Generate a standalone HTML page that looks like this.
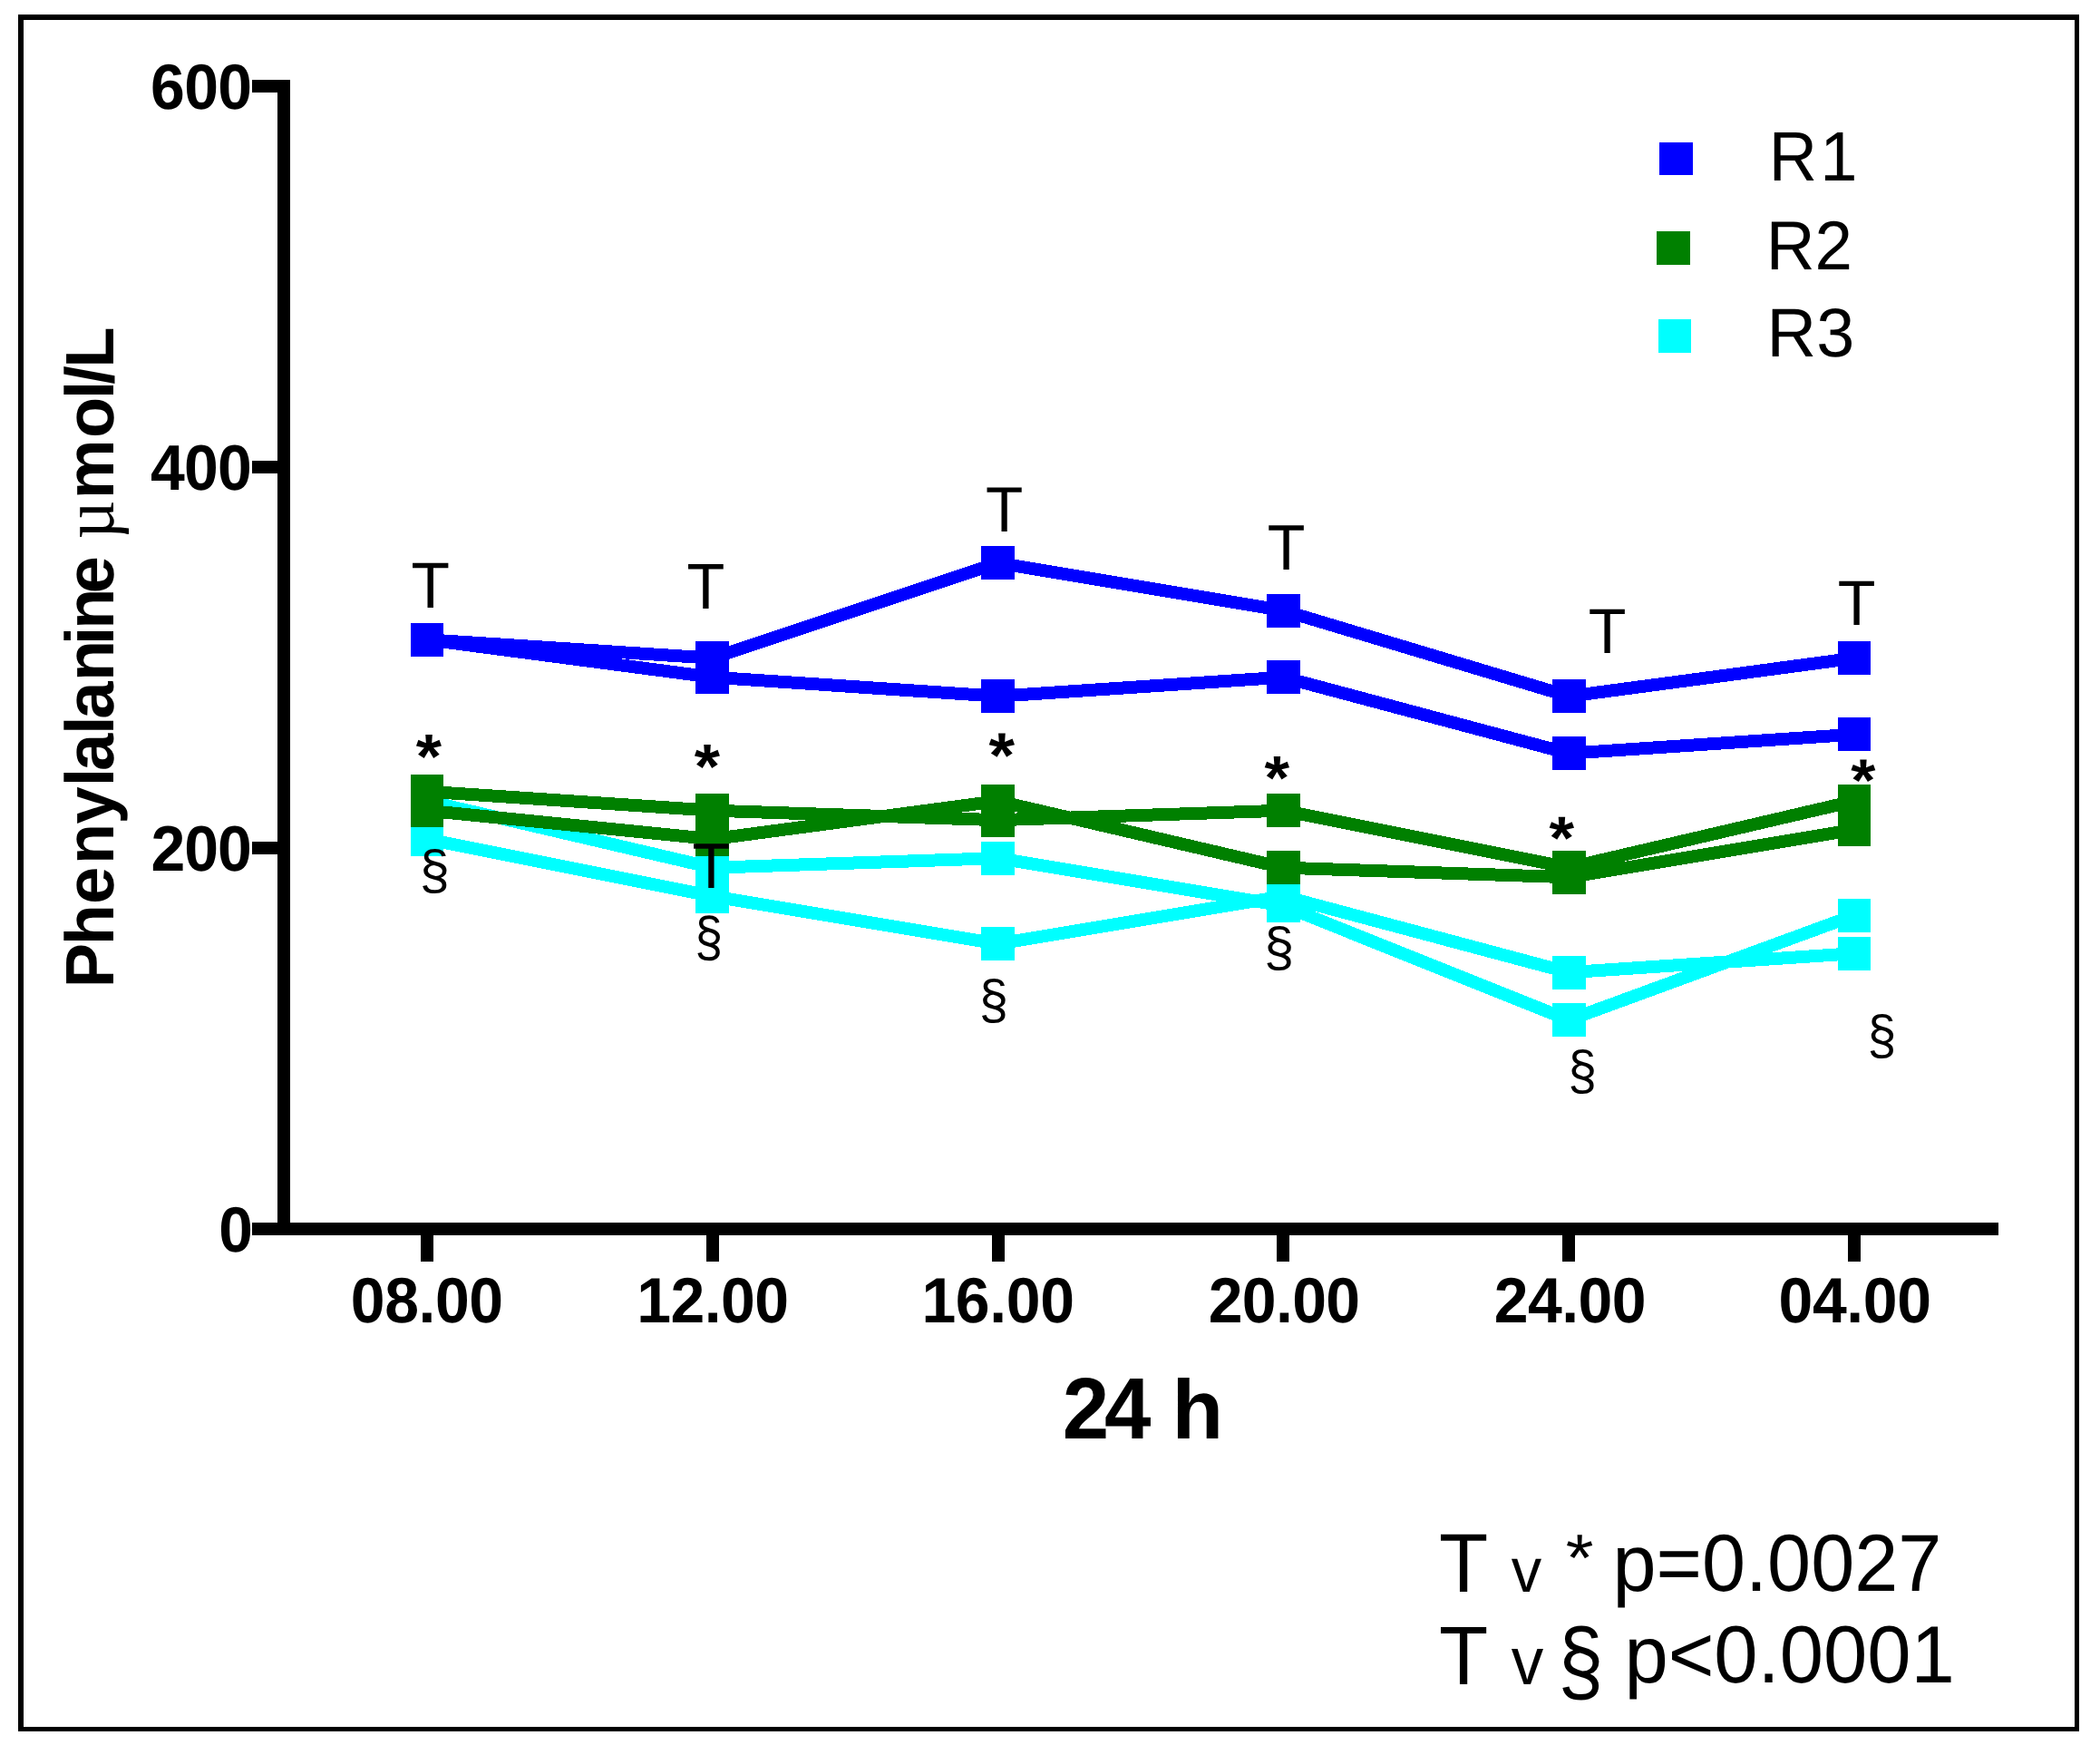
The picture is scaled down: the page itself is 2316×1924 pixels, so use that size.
<!DOCTYPE html>
<html lang="en"><head><meta charset="utf-8"><title>Phenylalanine 24 h profile</title>
<style>html,body{margin:0;padding:0;background:#fff;width:2316px;height:1924px;overflow:hidden}svg{display:block}text{font-kerning:none;text-rendering:geometricPrecision;white-space:pre}</style></head><body>
<svg width="2316" height="1924" viewBox="0 0 2316 1924">
<rect width="2316" height="1924" fill="#fff"/>
<g shape-rendering="crispEdges">
<path d="M20 16H2293V1909H20Z M26 22V1904H2288V22Z" fill="#000" fill-rule="evenodd"/>
<rect x="306" y="88" width="14" height="1274" fill="#000"/>
<rect x="278" y="1348" width="1926" height="14" fill="#000"/>
<rect x="278" y="88" width="28" height="14" fill="#000"/>
<rect x="278" y="508" width="28" height="14" fill="#000"/>
<rect x="278" y="928" width="28" height="14" fill="#000"/>
<rect x="464" y="1362" width="14" height="29" fill="#000"/>
<rect x="779" y="1362" width="14" height="29" fill="#000"/>
<rect x="1094" y="1362" width="14" height="29" fill="#000"/>
<rect x="1408" y="1362" width="14" height="29" fill="#000"/>
<rect x="1723" y="1362" width="14" height="29" fill="#000"/>
<rect x="2038" y="1362" width="14" height="29" fill="#000"/>
</g>
<g fill="#00ffff" stroke="#00ffff">
<polyline points="471.0,883.2 785.8,956.7 1100.6,946.2 1415.4,998.7 1730.2,1124.7 2045.0,1009.2" fill="none" stroke-width="14" stroke-linejoin="bevel" shape-rendering="crispEdges"/>
<polyline points="471.0,925.2 785.8,988.2 1100.6,1040.7 1415.4,988.2 1730.2,1072.2 2045.0,1051.2" fill="none" stroke-width="14" stroke-linejoin="bevel" shape-rendering="crispEdges"/>
<rect x="452.6" y="864.8" width="36.8" height="36.8" stroke="none" shape-rendering="crispEdges"/>
<rect x="767.4" y="938.3" width="36.8" height="36.8" stroke="none" shape-rendering="crispEdges"/>
<rect x="1082.2" y="927.8" width="36.8" height="36.8" stroke="none" shape-rendering="crispEdges"/>
<rect x="1397.0" y="980.3" width="36.8" height="36.8" stroke="none" shape-rendering="crispEdges"/>
<rect x="1711.8" y="1106.3" width="36.8" height="36.8" stroke="none" shape-rendering="crispEdges"/>
<rect x="2026.6" y="990.8" width="36.8" height="36.8" stroke="none" shape-rendering="crispEdges"/>
<rect x="452.6" y="906.8" width="36.8" height="36.8" stroke="none" shape-rendering="crispEdges"/>
<rect x="767.4" y="969.8" width="36.8" height="36.8" stroke="none" shape-rendering="crispEdges"/>
<rect x="1082.2" y="1022.3" width="36.8" height="36.8" stroke="none" shape-rendering="crispEdges"/>
<rect x="1397.0" y="969.8" width="36.8" height="36.8" stroke="none" shape-rendering="crispEdges"/>
<rect x="1711.8" y="1053.8" width="36.8" height="36.8" stroke="none" shape-rendering="crispEdges"/>
<rect x="2026.6" y="1032.8" width="36.8" height="36.8" stroke="none" shape-rendering="crispEdges"/>
</g>
<g fill="#008000" stroke="#008000">
<polyline points="471.0,872.7 785.8,893.7 1100.6,904.2 1415.4,893.7 1730.2,956.7 2045.0,883.2" fill="none" stroke-width="14" stroke-linejoin="bevel" shape-rendering="crispEdges"/>
<polyline points="471.0,893.7 785.8,925.2 1100.6,883.2 1415.4,956.7 1730.2,967.2 2045.0,914.7" fill="none" stroke-width="14" stroke-linejoin="bevel" shape-rendering="crispEdges"/>
<rect x="452.6" y="854.3" width="36.8" height="36.8" stroke="none" shape-rendering="crispEdges"/>
<rect x="767.4" y="875.3" width="36.8" height="36.8" stroke="none" shape-rendering="crispEdges"/>
<rect x="1082.2" y="885.8" width="36.8" height="36.8" stroke="none" shape-rendering="crispEdges"/>
<rect x="1397.0" y="875.3" width="36.8" height="36.8" stroke="none" shape-rendering="crispEdges"/>
<rect x="1711.8" y="938.3" width="36.8" height="36.8" stroke="none" shape-rendering="crispEdges"/>
<rect x="2026.6" y="864.8" width="36.8" height="36.8" stroke="none" shape-rendering="crispEdges"/>
<rect x="452.6" y="875.3" width="36.8" height="36.8" stroke="none" shape-rendering="crispEdges"/>
<rect x="767.4" y="906.8" width="36.8" height="36.8" stroke="none" shape-rendering="crispEdges"/>
<rect x="1082.2" y="864.8" width="36.8" height="36.8" stroke="none" shape-rendering="crispEdges"/>
<rect x="1397.0" y="938.3" width="36.8" height="36.8" stroke="none" shape-rendering="crispEdges"/>
<rect x="1711.8" y="948.8" width="36.8" height="36.8" stroke="none" shape-rendering="crispEdges"/>
<rect x="2026.6" y="896.3" width="36.8" height="36.8" stroke="none" shape-rendering="crispEdges"/>
</g>
<g fill="#0000ff" stroke="#0000ff">
<polyline points="471.0,705.3 785.8,725.7 1100.6,620.7 1415.4,673.2 1730.2,767.7 2045.0,725.7" fill="none" stroke-width="14" stroke-linejoin="bevel" shape-rendering="crispEdges"/>
<polyline points="471.0,705.3 785.8,746.7 1100.6,767.7 1415.4,746.7 1730.2,830.7 2045.0,809.7" fill="none" stroke-width="14" stroke-linejoin="bevel" shape-rendering="crispEdges"/>
<rect x="452.6" y="686.9" width="36.8" height="36.8" stroke="none" shape-rendering="crispEdges"/>
<rect x="767.4" y="707.3" width="36.8" height="36.8" stroke="none" shape-rendering="crispEdges"/>
<rect x="1082.2" y="602.3" width="36.8" height="36.8" stroke="none" shape-rendering="crispEdges"/>
<rect x="1397.0" y="654.8" width="36.8" height="36.8" stroke="none" shape-rendering="crispEdges"/>
<rect x="1711.8" y="749.3" width="36.8" height="36.8" stroke="none" shape-rendering="crispEdges"/>
<rect x="2026.6" y="707.3" width="36.8" height="36.8" stroke="none" shape-rendering="crispEdges"/>
<rect x="452.6" y="686.9" width="36.8" height="36.8" stroke="none" shape-rendering="crispEdges"/>
<rect x="767.4" y="728.3" width="36.8" height="36.8" stroke="none" shape-rendering="crispEdges"/>
<rect x="1082.2" y="749.3" width="36.8" height="36.8" stroke="none" shape-rendering="crispEdges"/>
<rect x="1397.0" y="728.3" width="36.8" height="36.8" stroke="none" shape-rendering="crispEdges"/>
<rect x="1711.8" y="812.3" width="36.8" height="36.8" stroke="none" shape-rendering="crispEdges"/>
<rect x="2026.6" y="791.3" width="36.8" height="36.8" stroke="none" shape-rendering="crispEdges"/>
</g>
<g shape-rendering="crispEdges">
<rect x="1830" y="157" width="37" height="36" fill="#0000ff"/>
<rect x="1827" y="255" width="37" height="37" fill="#008000"/>
<rect x="1829" y="352" width="36" height="37" fill="#00ffff"/>
</g>
<text transform="matrix(0.73768 0 0 0.77036 1950.75 199.00)" font-family='"Liberation Sans", Arial, sans-serif' font-weight="400" font-size="100" fill="#000">R</text>
<text transform="matrix(0.73988 0 0 0.77036 2007.16 199.00)" font-family='"Liberation Sans", Arial, sans-serif' font-weight="400" font-size="100" fill="#000">1</text>
<text transform="matrix(0.74520 0 0 0.76191 1947.79 296.70)" font-family='"Liberation Sans", Arial, sans-serif' font-weight="400" font-size="100" fill="#000">R2</text>
<text transform="matrix(0.75585 0 0 0.75847 1948.60 393.46)" font-family='"Liberation Sans", Arial, sans-serif' font-weight="400" font-size="100" fill="#000">R3</text>
<text transform="matrix(0.68000 0 0 0.70621 166.11 120.31)" letter-spacing="-1.159" font-family='"Liberation Sans", Arial, sans-serif' font-weight="700" font-size="100" fill="#000">600</text>
<text transform="matrix(0.68000 0 0 0.70903 165.97 539.51)" letter-spacing="-1.203" font-family='"Liberation Sans", Arial, sans-serif' font-weight="700" font-size="100" fill="#000">400</text>
<text transform="matrix(0.68000 0 0 0.70903 166.54 959.51)" letter-spacing="-1.624" font-family='"Liberation Sans", Arial, sans-serif' font-weight="700" font-size="100" fill="#000">200</text>
<text transform="matrix(0.67706 0 0 0.70621 241.22 1380.31)" font-family='"Liberation Sans", Arial, sans-serif' font-weight="700" font-size="100" fill="#000">0</text>
<text transform="matrix(0.68000 0 0 0.70621 386.81 1458.31)" letter-spacing="-0.657" font-family='"Liberation Sans", Arial, sans-serif' font-weight="700" font-size="100" fill="#000">08.00</text>
<text transform="matrix(0.68000 0 0 0.70621 702.32 1458.31)" letter-spacing="-0.880" font-family='"Liberation Sans", Arial, sans-serif' font-weight="700" font-size="100" fill="#000">12.00</text>
<text transform="matrix(0.68000 0 0 0.70621 1016.42 1458.31)" letter-spacing="-0.549" font-family='"Liberation Sans", Arial, sans-serif' font-weight="700" font-size="100" fill="#000">16.00</text>
<text transform="matrix(0.68000 0 0 0.70621 1332.64 1458.31)" letter-spacing="-1.000" font-family='"Liberation Sans", Arial, sans-serif' font-weight="700" font-size="100" fill="#000">20.00</text>
<text transform="matrix(0.68000 0 0 0.70621 1647.64 1458.31)" letter-spacing="-0.779" font-family='"Liberation Sans", Arial, sans-serif' font-weight="700" font-size="100" fill="#000">24.00</text>
<text transform="matrix(0.68000 0 0 0.70621 1961.61 1458.31)" letter-spacing="-0.657" font-family='"Liberation Sans", Arial, sans-serif' font-weight="700" font-size="100" fill="#000">04.00</text>
<text transform="matrix(0.92500 0 0 0.96098 1171.69 1586.10)" letter-spacing="-5.497" font-family='"Liberation Sans", Arial, sans-serif' font-weight="700" font-size="100" fill="#000">24</text>
<text transform="matrix(0.92692 0 0 0.92602 1292.53 1586.10)" font-family='"Liberation Sans", Arial, sans-serif' font-weight="700" font-size="100" fill="#000">h</text>
<text transform="matrix(0 -0.74000 0.75500 0 125.00 1089.15)" x="0.00 63.49 124.68 184.02 244.02 299.71 323.08 377.14 400.65 456.99 510.79 534.42 587.38" y="0" font-family='"Liberation Sans", Arial, sans-serif' font-weight="700" font-size="100" fill="#000">Phenylalanine</text>
<text transform="matrix(0 -0.74135 0.80223 0 124.62 594.59)" font-family='"Liberation Serif", serif' font-weight="400" font-size="100" fill="#000">µ</text>
<text transform="matrix(0 -0.74000 0.75500 0 125.00 550.18)" x="0.00 90.93 148.66 171.02 195.04" y="0" font-family='"Liberation Sans", Arial, sans-serif' font-weight="700" font-size="100" fill="#000">mol/L</text>
<text transform="matrix(0.69505 0 0 0.71658 453.44 670.30)" font-family='"Liberation Sans", Arial, sans-serif' font-weight="400" font-size="100" fill="#000">T</text>
<text transform="matrix(0.68444 0 0 0.71077 757.46 670.90)" font-family='"Liberation Sans", Arial, sans-serif' font-weight="400" font-size="100" fill="#000">T</text>
<text transform="matrix(0.67559 0 0 0.70495 1087.08 586.30)" font-family='"Liberation Sans", Arial, sans-serif' font-weight="400" font-size="100" fill="#000">T</text>
<text transform="matrix(0.68267 0 0 0.70931 1397.67 627.80)" font-family='"Liberation Sans", Arial, sans-serif' font-weight="400" font-size="100" fill="#000">T</text>
<text transform="matrix(0.68267 0 0 0.70350 1751.77 719.50)" font-family='"Liberation Sans", Arial, sans-serif' font-weight="400" font-size="100" fill="#000">T</text>
<text transform="matrix(0.68267 0 0 0.70350 2026.77 689.20)" font-family='"Liberation Sans", Arial, sans-serif' font-weight="400" font-size="100" fill="#000">T</text>
<text transform="matrix(0.68444 0 0 0.70786 763.46 979.40)" font-family='"Liberation Sans", Arial, sans-serif' font-weight="400" font-size="100" fill="#000">T</text>
<text transform="matrix(0.72679 0 0 0.69879 458.79 858.08)" font-family='"Liberation Sans", Arial, sans-serif' font-weight="700" font-size="100" fill="#000">*</text>
<text transform="matrix(0.72679 0 0 0.69879 765.79 869.08)" font-family='"Liberation Sans", Arial, sans-serif' font-weight="700" font-size="100" fill="#000">*</text>
<text transform="matrix(0.73458 0 0 0.70417 1090.58 857.45)" font-family='"Liberation Sans", Arial, sans-serif' font-weight="700" font-size="100" fill="#000">*</text>
<text transform="matrix(0.70862 0 0 0.68267 1394.39 881.27)" font-family='"Liberation Sans", Arial, sans-serif' font-weight="700" font-size="100" fill="#000">*</text>
<text transform="matrix(0.70862 0 0 0.67192 1708.39 946.93)" font-family='"Liberation Sans", Arial, sans-serif' font-weight="700" font-size="100" fill="#000">*</text>
<text transform="matrix(0.69824 0 0 0.66117 2041.30 882.99)" font-family='"Liberation Sans", Arial, sans-serif' font-weight="700" font-size="100" fill="#000">*</text>
<text transform="matrix(0.59480 0 0 0.60723 462.66 979.80)" font-family='"Liberation Sans", Arial, sans-serif' font-weight="400" font-size="100" fill="#000">§</text>
<text transform="matrix(0.55424 0 0 0.61836 766.29 1053.81)" font-family='"Liberation Sans", Arial, sans-serif' font-weight="400" font-size="100" fill="#000">§</text>
<text transform="matrix(0.57903 0 0 0.60846 1079.65 1122.89)" font-family='"Liberation Sans", Arial, sans-serif' font-weight="400" font-size="100" fill="#000">§</text>
<text transform="matrix(0.59705 0 0 0.60846 1393.95 1065.29)" font-family='"Liberation Sans", Arial, sans-serif' font-weight="400" font-size="100" fill="#000">§</text>
<text transform="matrix(0.57002 0 0 0.60846 1729.30 1201.29)" font-family='"Liberation Sans", Arial, sans-serif' font-weight="400" font-size="100" fill="#000">§</text>
<text transform="matrix(0.57227 0 0 0.60846 2059.49 1161.59)" font-family='"Liberation Sans", Arial, sans-serif' font-weight="400" font-size="100" fill="#000">§</text>
<text transform="matrix(0.88782 0 0 0.91862 1586.91 1755.20)" font-family='"Liberation Sans", Arial, sans-serif' font-weight="400" font-size="100" fill="#000">T</text>
<text transform="matrix(0.66915 0 0 0.68519 1666.77 1755.20)" font-family='"Liberation Sans", Arial, sans-serif' font-weight="400" font-size="100" fill="#000">v</text>
<text transform="matrix(0.78898 0 0 0.73774 1726.73 1742.76)" font-family='"Liberation Sans", Arial, sans-serif' font-weight="400" font-size="100" fill="#000">*</text>
<text transform="matrix(0.86435 0 0 0.89096 1778.43 1753.51)" font-family='"Liberation Sans", Arial, sans-serif' font-weight="400" font-size="100" fill="#000">p=0.0027</text>
<text transform="matrix(0.88782 0 0 0.91571 1586.91 1857.00)" font-family='"Liberation Sans", Arial, sans-serif' font-weight="400" font-size="100" fill="#000">T</text>
<text transform="matrix(0.70970 0 0 0.73819 1666.76 1857.00)" font-family='"Liberation Sans", Arial, sans-serif' font-weight="400" font-size="100" fill="#000">v</text>
<text transform="matrix(0.90346 0 0 1.01411 1718.13 1866.48)" font-family='"Liberation Sans", Arial, sans-serif' font-weight="400" font-size="100" fill="#000">§</text>
<text transform="matrix(0.86771 0 0 0.89427 1791.41 1855.44)" font-family='"Liberation Sans", Arial, sans-serif' font-weight="400" font-size="100" fill="#000">p&lt;0.0001</text>
</svg></body></html>
